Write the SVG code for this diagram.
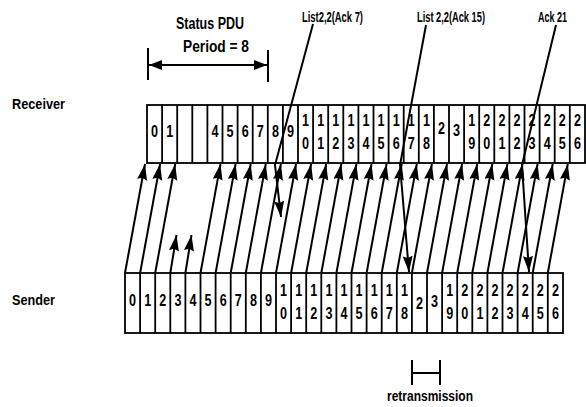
<svg xmlns="http://www.w3.org/2000/svg" width="586" height="407" viewBox="0 0 586 407">
<style>
text{font-family:"Liberation Sans",Arial,sans-serif;font-weight:bold;fill:#000}
.lbl{font-size:15px}
.d{font-size:16px;text-anchor:middle}
.cell{fill:#fff;stroke:#000;stroke-width:1.8}
.arr{stroke:#000;stroke-width:2;fill:none;marker-end:url(#ah)}
.st{stroke:#000;stroke-width:2;fill:none;marker-end:url(#ah)}
.ln{stroke:#000;stroke-width:2;fill:none}
</style>
<defs>
<marker id="ah" markerUnits="userSpaceOnUse" markerWidth="17" markerHeight="11" refX="16" refY="5" orient="auto">
<path d="M0,0 L16,5 L0,10 L2,5 z" fill="#000"/>
</marker>
<marker id="ah2" markerUnits="userSpaceOnUse" markerWidth="14" markerHeight="12" refX="13" refY="5" orient="auto-start-reverse">
<path d="M0,0 L13,5 L0,10 z" fill="#000"/>
</marker>
</defs>
<rect width="586" height="407" fill="#fff"/>

<g id="period">
<text x="210" y="29" text-anchor="middle" style="font-size:16px" textLength="68" lengthAdjust="spacingAndGlyphs">Status PDU</text>
<text x="216" y="52" text-anchor="middle" style="font-size:16px" textLength="66" lengthAdjust="spacingAndGlyphs">Period = 8</text>
<line class="ln" x1="148" y1="48" x2="148" y2="80"/>
<line class="ln" x1="268" y1="50" x2="268" y2="82"/>
<line x1="149" y1="65" x2="267" y2="65" stroke="#000" stroke-width="2" marker-start="url(#ah2)" marker-end="url(#ah2)"/>
</g>

<g id="receiver">
<text class="lbl" x="12" y="109" textLength="53" lengthAdjust="spacingAndGlyphs">Receiver</text>
<rect class="cell" x="147" y="105" width="438" height="58"/>
<path stroke="#000" stroke-width="1.8" d="M162.1,105V163M177.2,105V163M192.3,105V163M207.4,105V163M222.5,105V163M237.6,105V163M252.7,105V163M267.8,105V163M282.9,105V163M298,105V163M313.1,105V163M328.2,105V163M343.3,105V163M358.4,105V163M373.5,105V163M388.6,105V163M403.7,105V163M418.8,105V163M433.9,105V163M449,105V163M464.1,105V163M479.2,105V163M494.3,105V163M509.4,105V163M524.5,105V163M539.6,105V163M554.7,105V163M569.8,105V163"/>
<text class="d" x="154.6" y="137" textLength="7" lengthAdjust="spacingAndGlyphs">0</text>
<text class="d" x="169.7" y="137" textLength="7" lengthAdjust="spacingAndGlyphs">1</text>
<text class="d" x="215" y="137" textLength="7" lengthAdjust="spacingAndGlyphs">4</text>
<text class="d" x="230.1" y="137" textLength="7" lengthAdjust="spacingAndGlyphs">5</text>
<text class="d" x="245.2" y="137" textLength="7" lengthAdjust="spacingAndGlyphs">6</text>
<text class="d" x="260.3" y="137" textLength="7" lengthAdjust="spacingAndGlyphs">7</text>
<text class="d" x="275.4" y="137" textLength="7" lengthAdjust="spacingAndGlyphs">8</text>
<text class="d" x="290.5" y="137" textLength="7" lengthAdjust="spacingAndGlyphs">9</text>
<text class="d" x="305.6" y="126" textLength="7" lengthAdjust="spacingAndGlyphs">1</text><text class="d" x="305.6" y="149" textLength="7" lengthAdjust="spacingAndGlyphs">0</text>
<text class="d" x="320.7" y="126" textLength="7" lengthAdjust="spacingAndGlyphs">1</text><text class="d" x="320.7" y="149" textLength="7" lengthAdjust="spacingAndGlyphs">1</text>
<text class="d" x="335.8" y="126" textLength="7" lengthAdjust="spacingAndGlyphs">1</text><text class="d" x="335.8" y="149" textLength="7" lengthAdjust="spacingAndGlyphs">2</text>
<text class="d" x="350.9" y="126" textLength="7" lengthAdjust="spacingAndGlyphs">1</text><text class="d" x="350.9" y="149" textLength="7" lengthAdjust="spacingAndGlyphs">3</text>
<text class="d" x="366" y="126" textLength="7" lengthAdjust="spacingAndGlyphs">1</text><text class="d" x="366" y="149" textLength="7" lengthAdjust="spacingAndGlyphs">4</text>
<text class="d" x="381.1" y="126" textLength="7" lengthAdjust="spacingAndGlyphs">1</text><text class="d" x="381.1" y="149" textLength="7" lengthAdjust="spacingAndGlyphs">5</text>
<text class="d" x="396.2" y="126" textLength="7" lengthAdjust="spacingAndGlyphs">1</text><text class="d" x="396.2" y="149" textLength="7" lengthAdjust="spacingAndGlyphs">6</text>
<text class="d" x="411.3" y="126" textLength="7" lengthAdjust="spacingAndGlyphs">1</text><text class="d" x="411.3" y="149" textLength="7" lengthAdjust="spacingAndGlyphs">7</text>
<text class="d" x="426.4" y="126" textLength="7" lengthAdjust="spacingAndGlyphs">1</text><text class="d" x="426.4" y="149" textLength="7" lengthAdjust="spacingAndGlyphs">8</text>
<text class="d" x="441.5" y="134" textLength="7" lengthAdjust="spacingAndGlyphs">2</text>
<text class="d" x="456.6" y="136" textLength="7" lengthAdjust="spacingAndGlyphs">3</text>
<text class="d" x="471.7" y="126" textLength="7" lengthAdjust="spacingAndGlyphs">1</text><text class="d" x="471.7" y="149" textLength="7" lengthAdjust="spacingAndGlyphs">9</text>
<text class="d" x="486.8" y="126" textLength="7" lengthAdjust="spacingAndGlyphs">2</text><text class="d" x="486.8" y="149" textLength="7" lengthAdjust="spacingAndGlyphs">0</text>
<text class="d" x="501.9" y="126" textLength="7" lengthAdjust="spacingAndGlyphs">2</text><text class="d" x="501.9" y="149" textLength="7" lengthAdjust="spacingAndGlyphs">1</text>
<text class="d" x="517" y="126" textLength="7" lengthAdjust="spacingAndGlyphs">2</text><text class="d" x="517" y="149" textLength="7" lengthAdjust="spacingAndGlyphs">2</text>
<text class="d" x="532.1" y="126" textLength="7" lengthAdjust="spacingAndGlyphs">2</text><text class="d" x="532.1" y="149" textLength="7" lengthAdjust="spacingAndGlyphs">3</text>
<text class="d" x="547.2" y="126" textLength="7" lengthAdjust="spacingAndGlyphs">2</text><text class="d" x="547.2" y="149" textLength="7" lengthAdjust="spacingAndGlyphs">4</text>
<text class="d" x="562.3" y="126" textLength="7" lengthAdjust="spacingAndGlyphs">2</text><text class="d" x="562.3" y="149" textLength="7" lengthAdjust="spacingAndGlyphs">5</text>
<text class="d" x="577.4" y="126" textLength="7" lengthAdjust="spacingAndGlyphs">2</text><text class="d" x="577.4" y="149" textLength="7" lengthAdjust="spacingAndGlyphs">6</text>
</g>

<g id="sender">
<text class="lbl" x="12" y="305" textLength="43" lengthAdjust="spacingAndGlyphs">Sender</text>
<rect class="cell" x="125" y="273" width="438" height="60"/>
<path stroke="#000" stroke-width="1.8" d="M140.1,273V333M155.2,273V333M170.3,273V333M185.4,273V333M200.5,273V333M215.6,273V333M230.7,273V333M245.8,273V333M260.9,273V333M276,273V333M291.1,273V333M306.2,273V333M321.3,273V333M336.4,273V333M351.5,273V333M366.6,273V333M381.7,273V333M396.8,273V333M411.9,273V333M427,273V333M442.1,273V333M457.2,273V333M472.3,273V333M487.4,273V333M502.5,273V333M517.6,273V333M532.7,273V333M547.8,273V333"/>
<text class="d" x="132.6" y="306" textLength="7" lengthAdjust="spacingAndGlyphs">0</text>
<text class="d" x="147.7" y="306" textLength="7" lengthAdjust="spacingAndGlyphs">1</text>
<text class="d" x="162.8" y="306" textLength="7" lengthAdjust="spacingAndGlyphs">2</text>
<text class="d" x="177.9" y="306" textLength="7" lengthAdjust="spacingAndGlyphs">3</text>
<text class="d" x="193" y="306" textLength="7" lengthAdjust="spacingAndGlyphs">4</text>
<text class="d" x="208.1" y="306" textLength="7" lengthAdjust="spacingAndGlyphs">5</text>
<text class="d" x="223.2" y="306" textLength="7" lengthAdjust="spacingAndGlyphs">6</text>
<text class="d" x="238.3" y="306" textLength="7" lengthAdjust="spacingAndGlyphs">7</text>
<text class="d" x="253.4" y="306" textLength="7" lengthAdjust="spacingAndGlyphs">8</text>
<text class="d" x="268.5" y="306" textLength="7" lengthAdjust="spacingAndGlyphs">9</text>
<text class="d" x="283.6" y="296" textLength="7" lengthAdjust="spacingAndGlyphs">1</text><text class="d" x="283.6" y="319" textLength="7" lengthAdjust="spacingAndGlyphs">0</text>
<text class="d" x="298.7" y="296" textLength="7" lengthAdjust="spacingAndGlyphs">1</text><text class="d" x="298.7" y="319" textLength="7" lengthAdjust="spacingAndGlyphs">1</text>
<text class="d" x="313.8" y="296" textLength="7" lengthAdjust="spacingAndGlyphs">1</text><text class="d" x="313.8" y="319" textLength="7" lengthAdjust="spacingAndGlyphs">2</text>
<text class="d" x="328.9" y="296" textLength="7" lengthAdjust="spacingAndGlyphs">1</text><text class="d" x="328.9" y="319" textLength="7" lengthAdjust="spacingAndGlyphs">3</text>
<text class="d" x="344" y="296" textLength="7" lengthAdjust="spacingAndGlyphs">1</text><text class="d" x="344" y="319" textLength="7" lengthAdjust="spacingAndGlyphs">4</text>
<text class="d" x="359.1" y="296" textLength="7" lengthAdjust="spacingAndGlyphs">1</text><text class="d" x="359.1" y="319" textLength="7" lengthAdjust="spacingAndGlyphs">5</text>
<text class="d" x="374.2" y="296" textLength="7" lengthAdjust="spacingAndGlyphs">1</text><text class="d" x="374.2" y="319" textLength="7" lengthAdjust="spacingAndGlyphs">6</text>
<text class="d" x="389.3" y="296" textLength="7" lengthAdjust="spacingAndGlyphs">1</text><text class="d" x="389.3" y="319" textLength="7" lengthAdjust="spacingAndGlyphs">7</text>
<text class="d" x="404.4" y="296" textLength="7" lengthAdjust="spacingAndGlyphs">1</text><text class="d" x="404.4" y="319" textLength="7" lengthAdjust="spacingAndGlyphs">8</text>
<text class="d" x="419.5" y="309" textLength="7" lengthAdjust="spacingAndGlyphs">2</text>
<text class="d" x="434.6" y="307" textLength="7" lengthAdjust="spacingAndGlyphs">3</text>
<text class="d" x="449.7" y="296" textLength="7" lengthAdjust="spacingAndGlyphs">1</text><text class="d" x="449.7" y="319" textLength="7" lengthAdjust="spacingAndGlyphs">9</text>
<text class="d" x="464.8" y="296" textLength="7" lengthAdjust="spacingAndGlyphs">2</text><text class="d" x="464.8" y="319" textLength="7" lengthAdjust="spacingAndGlyphs">0</text>
<text class="d" x="479.9" y="296" textLength="7" lengthAdjust="spacingAndGlyphs">2</text><text class="d" x="479.9" y="319" textLength="7" lengthAdjust="spacingAndGlyphs">1</text>
<text class="d" x="495" y="296" textLength="7" lengthAdjust="spacingAndGlyphs">2</text><text class="d" x="495" y="319" textLength="7" lengthAdjust="spacingAndGlyphs">2</text>
<text class="d" x="510.1" y="296" textLength="7" lengthAdjust="spacingAndGlyphs">2</text><text class="d" x="510.1" y="319" textLength="7" lengthAdjust="spacingAndGlyphs">3</text>
<text class="d" x="525.2" y="296" textLength="7" lengthAdjust="spacingAndGlyphs">2</text><text class="d" x="525.2" y="319" textLength="7" lengthAdjust="spacingAndGlyphs">4</text>
<text class="d" x="540.3" y="296" textLength="7" lengthAdjust="spacingAndGlyphs">2</text><text class="d" x="540.3" y="319" textLength="7" lengthAdjust="spacingAndGlyphs">5</text>
<text class="d" x="555.4" y="296" textLength="7" lengthAdjust="spacingAndGlyphs">2</text><text class="d" x="555.4" y="319" textLength="7" lengthAdjust="spacingAndGlyphs">6</text>
</g>

<g id="connectors">
<line class="arr" x1="125" y1="273" x2="145" y2="164"/>
<line class="arr" x1="140.1" y1="273" x2="160.1" y2="164"/>
<line class="arr" x1="155.2" y1="273" x2="175.2" y2="164"/>
<line class="arr" x1="170.3" y1="273" x2="176.5" y2="235"/>
<line class="arr" x1="185.4" y1="273" x2="191.5" y2="235"/>
<line class="arr" x1="200.5" y1="273" x2="220.5" y2="164"/>
<line class="arr" x1="215.6" y1="273" x2="235.6" y2="164"/>
<line class="arr" x1="230.7" y1="273" x2="250.7" y2="164"/>
<line class="arr" x1="245.8" y1="273" x2="265.8" y2="164"/>
<line class="arr" x1="260.9" y1="273" x2="280.9" y2="164"/>
<line class="arr" x1="276" y1="273" x2="296" y2="164"/>
<line class="arr" x1="291.1" y1="273" x2="311.1" y2="164"/>
<line class="arr" x1="306.2" y1="273" x2="326.2" y2="164"/>
<line class="arr" x1="321.3" y1="273" x2="341.3" y2="164"/>
<line class="arr" x1="336.4" y1="273" x2="356.4" y2="164"/>
<line class="arr" x1="351.5" y1="273" x2="371.5" y2="164"/>
<line class="arr" x1="366.6" y1="273" x2="386.6" y2="164"/>
<line class="arr" x1="381.7" y1="273" x2="401.7" y2="164"/>
<line class="arr" x1="396.8" y1="273" x2="416.8" y2="164"/>
<line class="arr" x1="411.9" y1="273" x2="431.9" y2="164"/>
<line class="arr" x1="427" y1="273" x2="447" y2="164"/>
<line class="arr" x1="442.1" y1="273" x2="462.1" y2="164"/>
<line class="arr" x1="457.2" y1="273" x2="477.2" y2="164"/>
<line class="arr" x1="472.3" y1="273" x2="492.3" y2="164"/>
<line class="arr" x1="487.4" y1="273" x2="507.4" y2="164"/>
<line class="arr" x1="502.5" y1="273" x2="522.5" y2="164"/>
<line class="arr" x1="517.6" y1="273" x2="537.6" y2="164"/>
<line class="arr" x1="532.7" y1="273" x2="552.7" y2="164"/>
<line class="arr" x1="547.8" y1="273" x2="567.8" y2="164"/>
<polyline class="st" points="313,24 275,165 281,217"/>
<polyline class="st" points="426,25 400,165 409,272"/>
<polyline class="st" points="556,25 522,165 529,272"/>
</g>

<g id="status-labels">
<text x="302" y="22" style="font-size:14px" textLength="61" lengthAdjust="spacingAndGlyphs">List2,2(Ack 7)</text>
<text x="417" y="22" style="font-size:14px" textLength="68" lengthAdjust="spacingAndGlyphs">List 2,2(Ack 15)</text>
<text x="538" y="22" style="font-size:14px" textLength="29" lengthAdjust="spacingAndGlyphs">Ack 21</text>
</g>

<g id="retransmission">
<line class="ln" x1="412" y1="360" x2="412" y2="385"/>
<line class="ln" x1="440" y1="360" x2="440" y2="385"/>
<line class="ln" x1="412" y1="373" x2="440" y2="373"/>
<text x="387" y="401" style="font-size:15px" textLength="86" lengthAdjust="spacingAndGlyphs">retransmission</text>
</g>
</svg>
